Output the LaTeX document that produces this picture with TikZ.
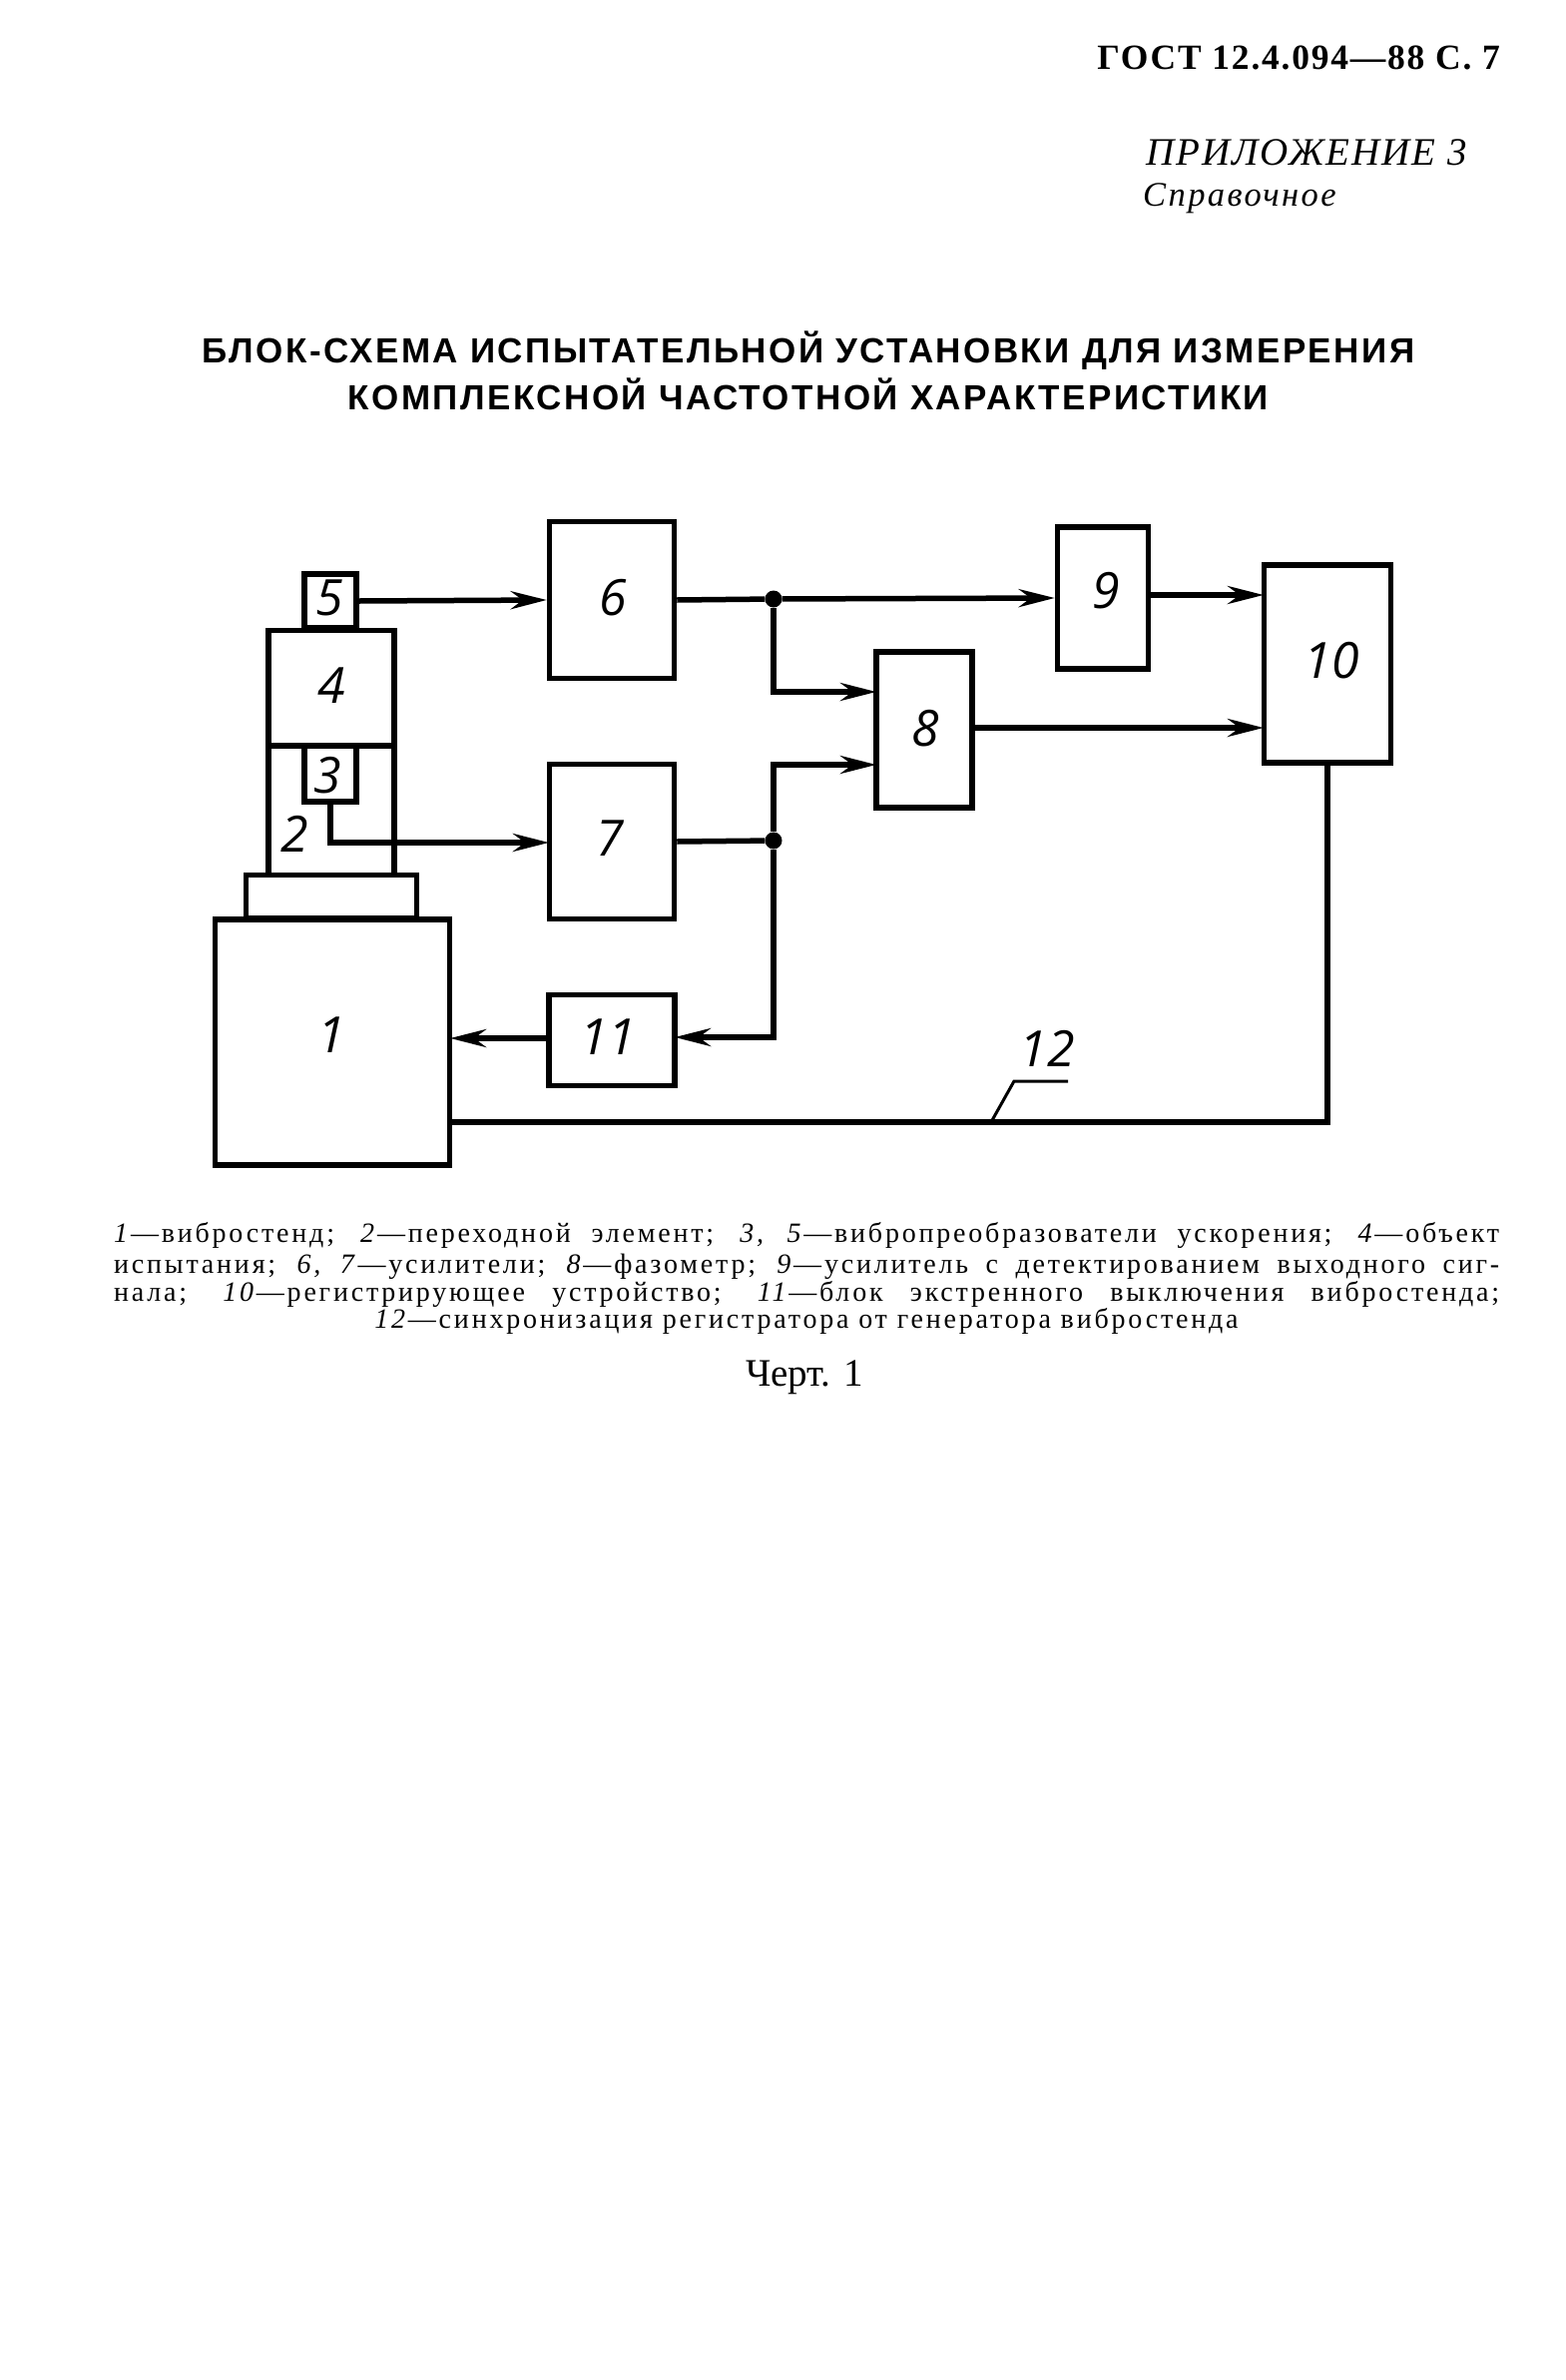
\documentclass[tikz,border=0pt]{standalone}
\usepackage{fontspec}
\setmainfont{Liberation Serif}
\newfontfamily\digitfont{Open Sans}
\newfontfamily\titlefont[LetterSpace=7]{Liberation Sans}
\newfontfamily\headfont[LetterSpace=5]{Liberation Serif}
\newfontfamily\appfont[LetterSpace=5]{Liberation Serif}
\newfontfamily\reffont[LetterSpace=7]{Liberation Serif}
\newfontfamily\capfont[LetterSpace=10]{Liberation Serif}
\usetikzlibrary{arrows.meta}
\tikzset{
  x=1pt,y=-1pt,
  blockbox/.style={draw=black,fill=white,line width=5.5pt,rectangle,inner sep=0pt,minimum width=#1},
  tag/.style={font=\digitfont\itshape\fontsize{50}{50}\selectfont,inner sep=0pt},
  conn/.style={line width=5.5pt,line join=miter},
  arrowed/.style={conn,-{Stealth[length=36pt,width=18pt,inset=12pt]}},
  dotnode/.style={circle,fill=black,inner sep=0pt,minimum size=17pt},
  capline/.style={font=\capfont\fontsize{28}{28}\selectfont,inner sep=0pt,anchor=west},
}
\newcommand{\capfit}[1]{\makebox[1388pt][s]{#1}}
\begin{document}
\begin{tikzpicture}
\useasboundingbox (0,0) rectangle (1568,2384);
\fill[white] (0,0) rectangle (1568,2384);

% header
\node[inner sep=0pt,anchor=east,font=\headfont\bfseries\fontsize{35.5}{35.5}\selectfont] (hdr) at (1503,58) {ГОСТ 12.4.094—88 С. 7};
\node[inner sep=0pt,anchor=west,font=\appfont\itshape\fontsize{39}{39}\selectfont] (app) at (1148,153) {ПРИЛОЖЕНИЕ 3};
\node[inner sep=0pt,anchor=west,font=\reffont\itshape\fontsize{34.5}{34.5}\selectfont] (ref) at (1145,199) {Справочное};
\node[inner sep=0pt,font=\titlefont\bfseries\fontsize{35}{35}\selectfont] (t1) at (810,351) {БЛОК-СХЕМА ИСПЫТАТЕЛЬНОЙ УСТАНОВКИ ДЛЯ ИЗМЕРЕНИЯ};
\node[inner sep=0pt,font=\titlefont\bfseries\fontsize{35}{35}\selectfont] (t2) at (810,395) {КОМПЛЕКСНОЙ ЧАСТОТНОЙ ХАРАКТЕРИСТИКИ};

% blocks (centre, width, height from the reference)
\node[blockbox=126pt,minimum height=129pt] (b2) at (332,812) {};
\node[blockbox=126pt,minimum height=115pt] (b4) at (332,689) {};
\node[blockbox=52pt,minimum height=54pt] (b5) at (331,602) {};
\node[blockbox=52pt,minimum height=56pt] (b3) at (331,775) {};
\node[blockbox=171pt,minimum height=43pt] (plate) at (332,898) {};
\node[blockbox=235pt,minimum height=246pt] (b1) at (333,1044) {};
\node[blockbox=125pt,minimum height=157pt] (b6) at (613,601) {};
\node[blockbox=125pt,minimum height=155pt] (b7) at (613,843) {};
\node[blockbox=126pt,minimum height=91pt] (b11) at (613,1042) {};
\node[blockbox=96pt,minimum height=156pt] (b8) at (926,731) {};
\node[blockbox=91pt,minimum height=142pt] (b9) at (1105,599) {};
\node[blockbox=127pt,minimum height=198pt] (b10) at (1330,665) {};

% labels
\node[tag] (l1) at (332,1037) {1};
\node[tag] (l2) at (295,835) {2};
\node[tag] (l3) at (328,777) {3};
\node[tag] (l4) at (332,687) {4};
\node[tag] (l5) at (330,599) {5};
\node[tag] (l6) at (614,599) {6};
\node[tag] (l7) at (611,840) {7};
\node[tag] (l8) at (927,730) {8};
\node[tag] (l9) at (1108,592) {9};
\node[tag] (l10) at (1334,662) {10};
\node[tag] (l11) at (609,1039) {11};
\node[tag] (l12) at (1049,1050) {12};

% ports and junctions
\node[dotnode] (j1) at (775,600) {};
\node[dotnode] (j2) at (775,842) {};
\coordinate (p8a) at (878,693);
\coordinate (p8b) at (878,766);
\coordinate (p10a) at (1266,596);
\coordinate (p10b) at (1266,729);
\coordinate (p9o) at (1150,596);
\coordinate (p8o) at (975,729);
\coordinate (p1s) at (451,1124);
\coordinate (p1i) at (451,1040);
\coordinate (p11o) at (550,1040);
\coordinate (p11i) at (676,1039);
\coordinate (p12a) at (993,1124);
\coordinate (p12b) at (1016,1083);
\coordinate (p12c) at (1070,1083);
\coordinate (p37) at (550,844);

% connectors
\draw[arrowed] (b5.east) -- (b6.west);
\draw[arrowed] (b3.south) |- (p37);
\draw[conn] (b6.east) -- (j1);
\draw[arrowed] (j1) -- (b9.west);
\draw[arrowed] (j1) |- (p8a);
\draw[conn] (b7.east) -- (j2);
\draw[arrowed] (j2) |- (p8b);
\draw[arrowed] (j2) |- (p11i);
\draw[arrowed] (p11o) -- (p1i);
\draw[arrowed] (p9o) -- (p10a);
\draw[arrowed] (p8o) -- (p10b);
\draw[conn] (b10.south) |- (p1s);
\draw[line width=3pt] (p12a) -- (p12b) -- (p12c);

% caption
\node[capline] (c1) at (114,1237) {\capfit{\textit{1}—вибростенд; \textit{2}—переходной элемент; \textit{3, 5}—вибропреобразователи ускорения; \textit{4}—объект}};
\node[capline] (c2) at (114,1269) {\capfit{испытания; \textit{6, 7}—усилители; \textit{8}—фазометр; \textit{9}—усилитель с детектированием выходного сиг-}};
\node[capline] (c3) at (114,1296) {\capfit{нала; \textit{10}—регистрирующее устройство; \textit{11}—блок экстренного выключения вибростенда;}};
\node[capline,anchor=center] (c4) at (808,1323) {\textit{12}—синхронизация регистратора от генератора вибростенда};
\node[inner sep=0pt,font=\fontsize{39}{39}\selectfont] (fig) at (806,1380) {Черт. 1};
\end{tikzpicture}
\end{document}
